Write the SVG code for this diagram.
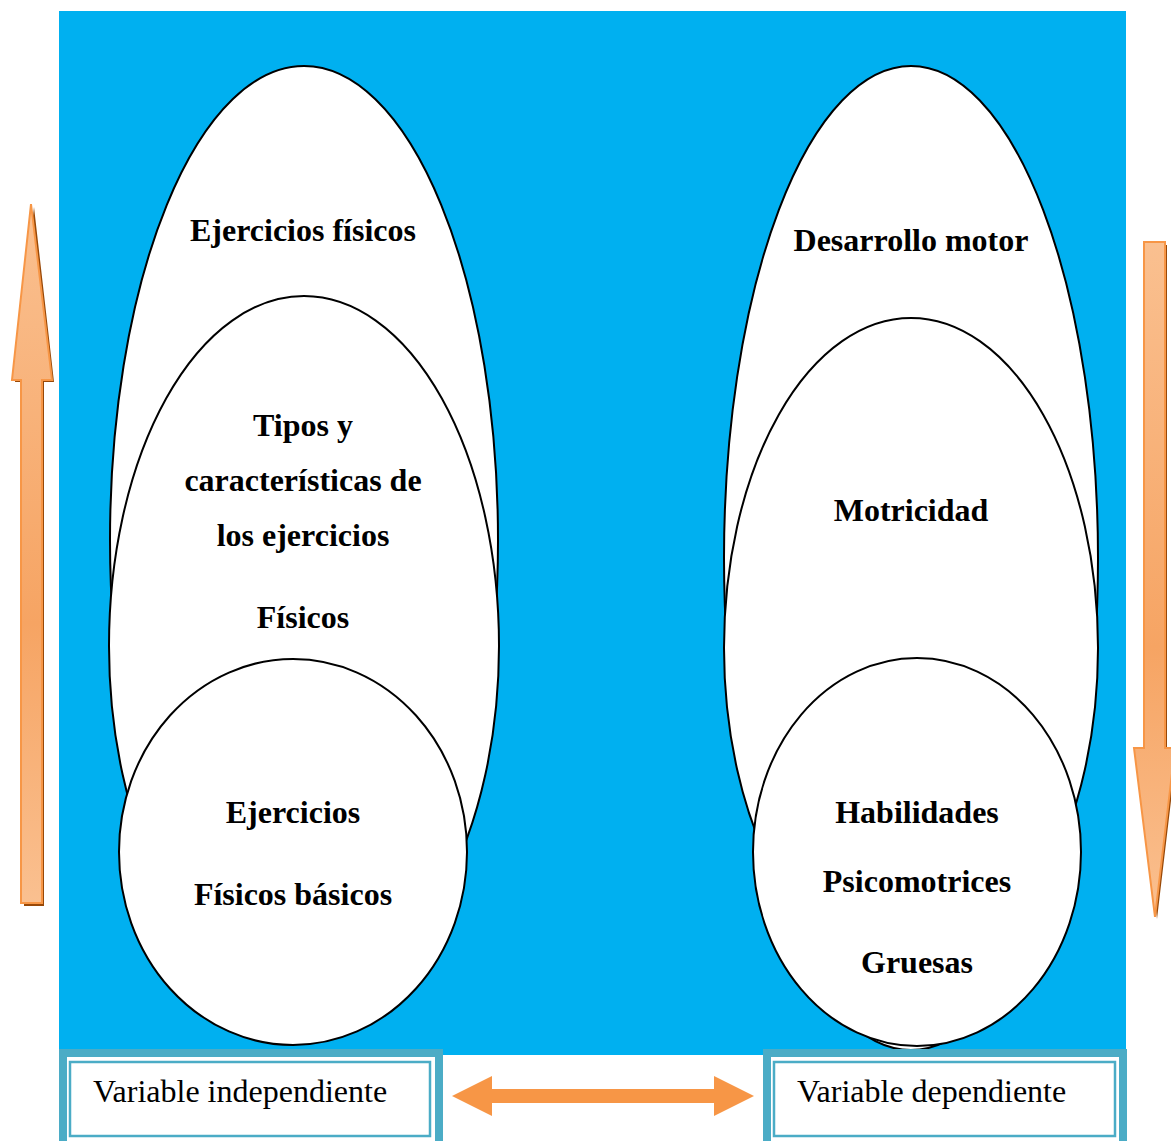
<svg xmlns="http://www.w3.org/2000/svg" width="1171" height="1141" viewBox="0 0 1171 1141">
<defs>
<style>
.e{fill:#fff;stroke:#000;stroke-width:2}
.t{font-family:"Liberation Serif","Times New Roman",serif;font-weight:bold;font-size:32px;fill:#000;text-anchor:middle}
.v{font-family:"Liberation Serif","Times New Roman",serif;font-size:32px;fill:#000}
.bo{fill:#fff;stroke:#4BACC6;stroke-width:8}
.bi{fill:none;stroke:#4BACC6;stroke-width:2.5}
.ar{stroke:#F79646;stroke-width:2}
.sh{fill:#984807}
</style>
<linearGradient id="gu" x1="0" y1="0" x2="0" y2="1">
<stop offset="0" stop-color="#FAC090"/>
<stop offset="0.6" stop-color="#F6A463"/>
<stop offset="1" stop-color="#FAC090"/>
</linearGradient>
<linearGradient id="gd" x1="0" y1="0" x2="0" y2="1">
<stop offset="0" stop-color="#FAC090"/>
<stop offset="0.6" stop-color="#F6A463"/>
<stop offset="1" stop-color="#FAC090"/>
</linearGradient>
</defs>
<rect x="0" y="0" width="1171" height="1141" fill="#fff"/>
<rect id="background" x="59" y="11" width="1067" height="1044" fill="#00B0F0"/>

<g id="left-outer"><ellipse class="e" cx="304" cy="540" rx="194" ry="474"/><text class="t" x="303" y="241">Ejercicios físicos</text></g>
<g id="left-middle"><ellipse class="e" cx="304" cy="646" rx="195" ry="350"/>
<text class="t" x="303" y="436">Tipos y</text>
<text class="t" x="303" y="491">características de</text>
<text class="t" x="303" y="546">los ejercicios</text>
<text class="t" x="303" y="628">Físicos</text></g>
<g id="left-inner"><ellipse class="e" cx="293" cy="852" rx="174" ry="193"/>
<text class="t" x="293" y="823">Ejercicios</text>
<text class="t" x="293" y="905">Físicos básicos</text></g>

<g id="right-outer"><ellipse class="e" cx="911" cy="558" rx="187" ry="492"/><text class="t" x="911" y="251">Desarrollo motor</text></g>
<g id="right-middle"><ellipse class="e" cx="911" cy="648" rx="187" ry="330"/><text class="t" x="911" y="521">Motricidad</text></g>
<g id="right-inner"><ellipse class="e" cx="917" cy="852" rx="164" ry="194"/>
<text class="t" x="917" y="823">Habilidades</text>
<text class="t" x="917" y="892">Psicomotrices</text>
<text class="t" x="917" y="973">Gruesas</text></g>

<g id="box-independent">
<rect class="bo" x="63" y="1053" width="376" height="92"/>
<rect class="bi" x="70" y="1062" width="360" height="74"/>
<text class="v" x="93" y="1102">Variable independiente</text>
</g>
<g id="box-dependent">
<rect class="bo" x="767" y="1053" width="356" height="92"/>
<rect class="bi" x="774" y="1062" width="341" height="74"/>
<text class="v" x="797" y="1102">Variable dependiente</text>
</g>

<g id="connectors">
<polygon fill="#F79646" points="452,1096 492,1076 492,1089 714,1089 714,1076 754,1096 714,1116 714,1103 492,1103 492,1116"/>
<g id="arrow-up">
<polygon class="sh" points="34,207 54,382 44,382 44,906 24,906 24,382 15,382"/>
<polygon class="ar" fill="url(#gu)" points="31,204 52,380 42,380 42,903 21,903 21,380 12,380"/>
</g>
<g id="arrow-down">
<polygon class="sh" points="1147,245 1167,245 1167,750 1177,750 1157,919 1137,750 1147,750"/>
<polygon class="ar" fill="url(#gd)" points="1144,242 1165,242 1165,748 1175,748 1155,917 1134,748 1144,748"/>
</g>
</g>
</svg>
